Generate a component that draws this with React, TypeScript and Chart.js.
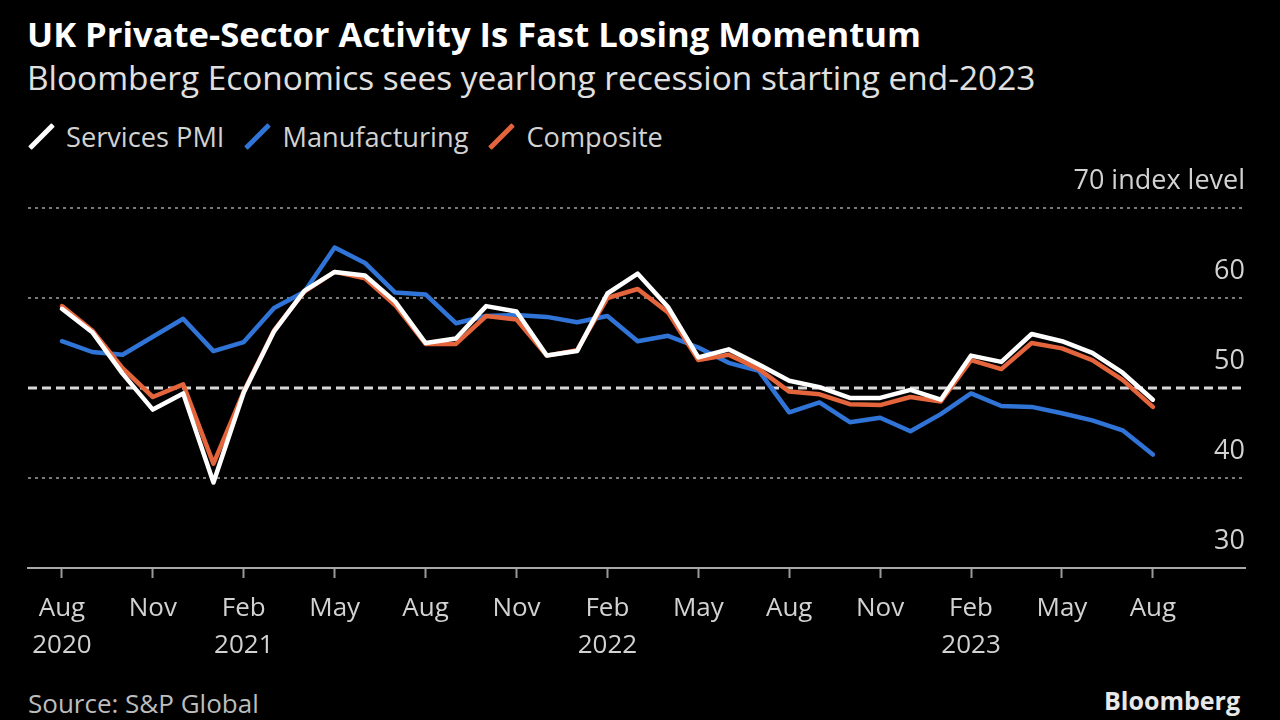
import React, { useEffect, useRef } from "react";
import { Chart, registerables } from "chart.js";

Chart.register(...registerables);

// ---- Data ----
const months = [
  "2020-08", "2020-09", "2020-10", "2020-11", "2020-12",
  "2021-01", "2021-02", "2021-03", "2021-04", "2021-05", "2021-06", "2021-07", "2021-08", "2021-09", "2021-10", "2021-11", "2021-12",
  "2022-01", "2022-02", "2022-03", "2022-04", "2022-05", "2022-06", "2022-07", "2022-08", "2022-09", "2022-10", "2022-11", "2022-12",
  "2023-01", "2023-02", "2023-03", "2023-04", "2023-05", "2023-06", "2023-07", "2023-08",
];

const services = [58.8, 56.2, 51.6, 47.6, 49.4, 39.5, 49.5, 56.3, 60.8, 62.9, 62.5, 59.6, 55.0, 55.5, 59.1, 58.5, 53.6, 54.1, 60.5, 62.7, 59.0, 53.4, 54.3, 52.6, 50.8, 50.1, 48.9, 48.9, 49.8, 48.7, 53.6, 52.9, 56.0, 55.2, 53.9, 51.7, 48.7];
const manufacturing = [55.2, 54.0, 53.7, 55.7, 57.7, 54.1, 55.1, 58.9, 60.7, 65.6, 63.9, 60.6, 60.4, 57.2, 58.0, 58.1, 57.9, 57.3, 58.0, 55.2, 55.8, 54.5, 52.8, 51.9, 47.3, 48.4, 46.2, 46.7, 45.2, 47.1, 49.4, 48.0, 47.9, 47.2, 46.4, 45.3, 42.6];
const composite = [59.1, 56.4, 52.2, 49.0, 50.4, 41.6, 49.6, 56.4, 60.7, 62.9, 62.2, 59.2, 54.9, 54.9, 58.0, 57.6, 53.6, 54.2, 60.0, 61.0, 58.4, 53.1, 53.7, 52.1, 49.6, 49.3, 48.2, 48.1, 49.0, 48.5, 53.1, 52.1, 55.0, 54.4, 53.1, 50.9, 47.9];

const seriesNames = ["Services PMI", "Manufacturing", "Composite"];
const seriesColors = ["#ffffff", "#2f74d6", "#e4643c"];

const xTickIndices = [0, 3, 6, 9, 12, 15, 18, 21, 24, 27, 30, 33, 36];
const xTickLabels = [
  ["Aug", "2020"], ["Nov"], ["Feb", "2021"], ["May"], ["Aug"], ["Nov"],
  ["Feb", "2022"], ["May"], ["Aug"], ["Nov"], ["Feb", "2023"], ["May"], ["Aug"],
];
const yTicks = [30, 40, 50, 60, 70];
const yTopLabel = "70 index level";
const referenceLevel = 50;

const FONT = "'Open Sans', sans-serif";

export default function App() {
  const canvasRef = useRef<HTMLCanvasElement | null>(null);

  useEffect(() => {
    document.body.style.background = "#000";
    const canvas = canvasRef.current;
    if (!canvas) return;

    const refLinePlugin = {
      id: "refLine",
      beforeDatasetsDraw(chart: any) {
        const { ctx, chartArea, scales } = chart;
        const y = scales.y.getPixelForValue(referenceLevel);
        ctx.save();
        ctx.strokeStyle = "#d8d8d8";
        ctx.lineWidth = 3;
        ctx.setLineDash([9, 5]);
        ctx.beginPath();
        ctx.moveTo(chartArea.left, y);
        ctx.lineTo(chartArea.right, y);
        ctx.stroke();
        ctx.restore();
      },
    };

    const toPoints = (arr: number[]) => arr.map((v, i) => ({ x: i, y: v }));
    const seriesData = [services, manufacturing, composite];
    const drawOrder = [0, 2, 1];

    const chart = new Chart(canvas, {
      type: "line",
      data: {
        datasets: seriesData.map((d, k) => ({
          label: seriesNames[k],
          data: toPoints(d),
          borderColor: seriesColors[k],
          backgroundColor: seriesColors[k],
          borderWidth: 4.5,
          pointRadius: 0,
          tension: 0,
          order: drawOrder[k],
          borderJoinStyle: "round" as const,
          borderCapStyle: "round" as const,
        })),
      },
      options: {
        animation: false,
        responsive: false,
        maintainAspectRatio: false,
        layout: { padding: { left: 28, right: 35, top: 58, bottom: 0 } },
        plugins: {
          legend: { display: false },
          title: { display: false },
          tooltip: { enabled: false },
        },
        scales: {
          x: {
            type: "linear",
            position: "bottom",
            min: -1.12,
            max: 39.04,
            afterBuildTicks: (scale: any) => {
              scale.ticks = xTickIndices.map((v) => ({ value: v }));
            },
            afterFit: (scale: any) => {
              scale.height = 102;
            },
            grid: {
              display: true,
              drawOnChartArea: false,
              drawTicks: true,
              tickLength: 10,
              tickColor: "#9a9a9a",
              tickWidth: 2,
            },
            border: { display: true, color: "#a8a8a8", width: 2 },
            ticks: {
              autoSkip: false,
              maxRotation: 0,
              minRotation: 0,
              padding: 12,
              color: "#d2d2d2",
              font: { family: FONT, size: 26, lineHeight: 1.42 },
              callback: (_v: any, index: number) => xTickLabels[index],
            },
          },
          y: {
            type: "linear",
            position: "right",
            min: 30,
            max: 70,
            afterBuildTicks: (scale: any) => {
              scale.ticks = yTicks.map((v) => ({ value: v }));
            },
            afterFit: (scale: any) => {
              scale.width = 0;
            },
            grid: {
              drawTicks: false,
              color: (ctx: any) =>
                ctx.tick && ctx.tick.value === referenceLevel ? "rgba(0,0,0,0)" : "#7a7a7a",
              lineWidth: 2,
            },
            border: { display: false, dash: [3, 4] },
            ticks: {
              mirror: true,
              padding: 0,
              labelOffset: -27,
              color: "#d2d2d2",
              font: { family: FONT, size: 27 },
              callback: (v: any) => (v === 70 ? yTopLabel : String(v)),
            },
          },
        },
      },
      plugins: [refLinePlugin],
    });

    return () => chart.destroy();
  }, []);

  return (
    <div
      style={{
        position: "absolute",
        left: 0,
        top: 0,
        width: 1280,
        height: 720,
        background: "#000",
        overflow: "hidden",
        fontFamily: FONT,
      }}
    >
      <div
        style={{
          position: "absolute",
          left: 27,
          top: 11,
          fontSize: 34.6,
          fontWeight: 700,
          color: "#ffffff",
          lineHeight: "46px",
          whiteSpace: "nowrap",
        }}
      >
        UK Private-Sector Activity Is Fast Losing Momentum
      </div>
      <div
        style={{
          position: "absolute",
          left: 27,
          top: 55,
          fontSize: 33.4,
          color: "#e0e0e0",
          lineHeight: "45px",
          whiteSpace: "nowrap",
        }}
      >
        Bloomberg Economics sees yearlong recession starting end-2023
      </div>
      <div
        style={{
          position: "absolute",
          left: 29,
          top: 117,
          height: 38,
          display: "flex",
          alignItems: "center",
          whiteSpace: "nowrap",
        }}
      >
        {seriesNames.map((name, k) => (
          <div key={name} style={{ display: "flex", alignItems: "center", marginRight: 21 }}>
            <div
              style={{
                position: "relative",
                width: 24,
                height: 24,
                marginRight: 13,
              }}
            >
              <div
                style={{
                  position: "absolute",
                  left: 9.5,
                  top: -4.5,
                  width: 5,
                  height: 33,
                  background: seriesColors[k],
                  transform: "rotate(45deg)",
                  borderRadius: 1,
                }}
              />
            </div>
            <span style={{ fontSize: 27.2, color: "#d2d2d2" }}>{name}</span>
          </div>
        ))}
      </div>
      <canvas
        ref={canvasRef}
        width={1280}
        height={520}
        style={{ position: "absolute", left: 0, top: 150, width: 1280, height: 520 }}
      />
      <div
        style={{
          position: "absolute",
          left: 28,
          top: 688,
          fontSize: 26,
          color: "#bdbdbd",
          lineHeight: "30px",
          whiteSpace: "nowrap",
        }}
      >
        Source: S&amp;P Global
      </div>
      <div
        style={{
          position: "absolute",
          right: 40,
          top: 684,
          fontSize: 25,
          fontWeight: 700,
          color: "#e8e8e8",
          lineHeight: "32px",
          whiteSpace: "nowrap",
        }}
      >
        Bloomberg
      </div>
    </div>
  );
}
